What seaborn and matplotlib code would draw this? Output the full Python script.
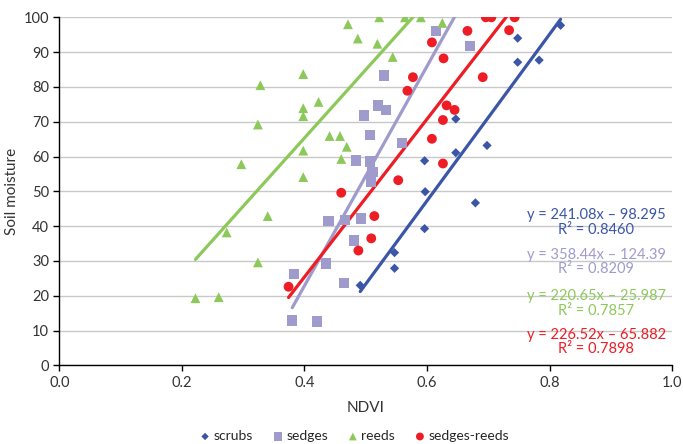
import numpy as np
import pandas as pd
import seaborn as sns
import matplotlib.pyplot as plt

# values
scrubs_ndvi = [0.818, 0.748, 0.748, 0.783, 0.647, 0.647, 0.698, 0.596, 0.597, 0.679, 0.596, 0.547, 0.547, 0.491]
scrubs_sm = [97.7, 94.0, 87.1, 87.7, 70.8, 61.1, 63.2, 58.8, 49.9, 46.7, 39.3, 32.4, 27.9, 23.0]

sedges_ndvi = [0.615, 0.670, 0.530, 0.520, 0.533, 0.497, 0.507, 0.559, 0.484, 0.507, 0.511,
               0.509, 0.439, 0.466, 0.492, 0.481, 0.435, 0.383, 0.465, 0.380, 0.421]
sedges_sm = [96.0, 91.7, 83.3, 74.7, 73.4, 71.8, 66.1, 63.8, 58.9, 58.6, 55.5,
             52.8, 41.4, 41.8, 42.2, 35.9, 29.3, 26.2, 23.6, 12.9, 12.6]

reeds_ndvi = [0.522, 0.564, 0.590, 0.471, 0.487, 0.519, 0.544, 0.398, 0.328, 0.423, 0.398, 0.398, 0.324,
              0.441, 0.458, 0.469, 0.398, 0.460, 0.297, 0.398, 0.625, 0.340, 0.273, 0.324, 0.222, 0.260]
reeds_sm = [100.0, 100.0, 100.0, 98.0, 93.9, 92.4, 88.6, 83.7, 80.5, 75.7, 73.9, 71.6, 69.2,
            65.9, 65.9, 62.8, 61.7, 59.3, 57.8, 54.1, 98.4, 42.9, 38.2, 29.6, 19.3, 19.6]

mixed_ndvi = [0.696, 0.705, 0.743, 0.666, 0.734, 0.608, 0.627, 0.577, 0.691, 0.568, 0.632,
              0.645, 0.626, 0.608, 0.626, 0.553, 0.460, 0.514, 0.509, 0.488, 0.374]
mixed_sm = [100.0, 100.0, 100.0, 96.1, 96.3, 92.8, 88.2, 82.8, 82.8, 78.9, 74.7,
            73.4, 70.5, 65.1, 58.0, 53.2, 49.6, 42.9, 36.5, 33.0, 22.6]

groups = ["scrubs", "sedges", "reeds", "sedges-reeds"]
equations = ["y = 241.08x \u2013 98.295\nR\u00b2 = 0.8460",
             "y = 358.44x \u2013 124.39\nR\u00b2 = 0.8209",
             "y = 220.65x \u2013 25.987\nR\u00b2 = 0.7857",
             "y = 226.52x \u2013 65.882\nR\u00b2 = 0.7898"]

df = pd.concat([
    pd.DataFrame({"NDVI": scrubs_ndvi, "sm": scrubs_sm, "group": "scrubs"}),
    pd.DataFrame({"NDVI": sedges_ndvi, "sm": sedges_sm, "group": "sedges"}),
    pd.DataFrame({"NDVI": reeds_ndvi, "sm": reeds_sm, "group": "reeds"}),
    pd.DataFrame({"NDVI": mixed_ndvi, "sm": mixed_sm, "group": "sedges-reeds"}),
], ignore_index=True)

colors = {"scrubs": "#3b56a6", "sedges": "#9f9bcd", "reeds": "#8dc95a", "sedges-reeds": "#ee1c24"}
markers = {"scrubs": "D", "sedges": "s", "reeds": "^", "sedges-reeds": "o"}
msize = {"scrubs": 22, "sedges": 55, "reeds": 50, "sedges-reeds": 50}

sns.set_style("white")
plt.rcParams['font.family'] = ['Lato', 'DejaVu Sans']

fig = plt.figure(figsize=(6.83, 4.44), dpi=100)
ax = fig.add_axes([0.087, 0.177, 0.897, 0.784])

# trend lines fitted per group
for g in groups:
    sub = df[df["group"] == g]
    sns.regplot(data=sub, x="NDVI", y="sm", scatter=False, ci=None, truncate=True,
                color=colors[g], line_kws={"lw": 2.3}, ax=ax)
for g in groups:
    sub = df[df["group"] == g]
    sns.scatterplot(data=sub, x="NDVI", y="sm", marker=markers[g], s=msize[g],
                    color=colors[g], edgecolor="none", label=g, ax=ax, zorder=3)

# trendline equations
eq_y = [41.0, 29.7, 17.8, 6.7]
for g, txt, yy in zip(groups, equations, eq_y):
    ax.text(0.876, yy, txt, color=colors[g], ha="center", va="center",
            fontsize=10.5, linespacing=1.05)

ax.set_xlim(0, 1.0)
ax.set_ylim(0, 100)
ax.set_xticks(np.arange(0, 1.01, 0.2))
ax.set_xticklabels([f"{v:.1f}" for v in np.arange(0, 1.01, 0.2)])
ax.set_yticks(range(0, 101, 10))
ax.yaxis.grid(True, color="#c8c8c8", lw=1)
ax.set_axisbelow(True)
for s in ["top", "right"]:
    ax.spines[s].set_visible(False)
for s in ["left", "bottom"]:
    ax.spines[s].set_color("black")
    ax.spines[s].set_linewidth(1)
ax.tick_params(axis="both", which="both", direction="out", length=4, width=1,
               colors="black", labelcolor="#333333", labelsize=10.5, bottom=True, left=True)
ax.set_xlabel("NDVI", fontsize=11, color="#333333", labelpad=8)
ax.set_ylabel("Soil moisture", fontsize=11, color="#333333", labelpad=3)

ax.legend(loc="upper center", bbox_to_anchor=(0.48, -0.15), ncol=4, frameon=False,
          fontsize=10, handletextpad=0.1, columnspacing=1.3, handlelength=1.0,
          markerscale=0.8)

fig.savefig("out.png", dpi=100)
